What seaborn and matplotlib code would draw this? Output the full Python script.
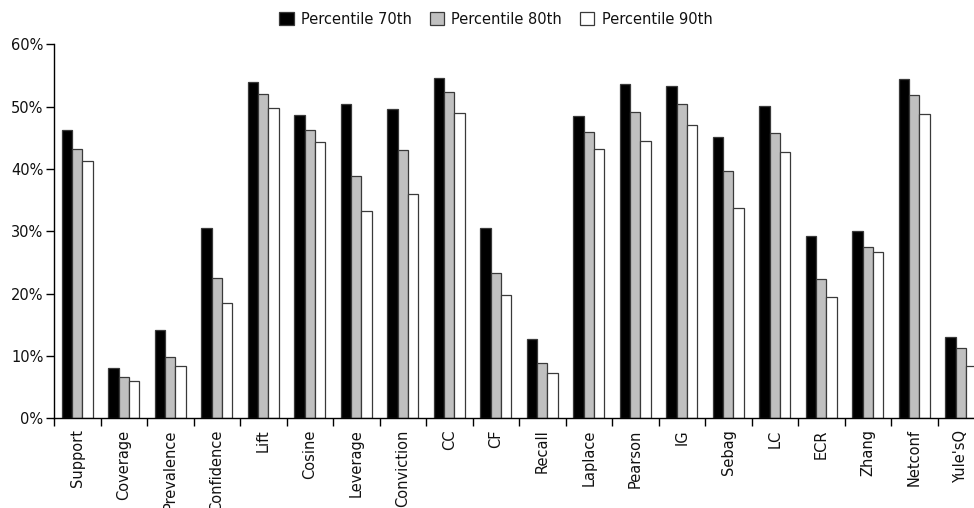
import matplotlib
matplotlib.use("Agg")
import matplotlib.pyplot as plt
import seaborn as sns
import pandas as pd
import numpy as np
from matplotlib.ticker import FuncFormatter, FixedLocator
from matplotlib.patches import Patch

categories = ["Support", "Coverage", "Prevalence", "Confidence", "Lift", "Cosine",
              "Leverage", "Conviction", "CC", "CF", "Recall", "Laplace", "Pearson",
              "IG", "Sebag", "LC", "ECR", "Zhang", "Netconf", "Yule'sQ"]
series_names = ["Percentile 70th", "Percentile 80th", "Percentile 90th"]
p70 = [46.3, 8.0, 14.2, 30.6, 54.0, 48.7, 50.4, 49.6, 54.6, 30.6, 12.7, 48.5, 53.6,
       53.3, 45.1, 50.1, 29.2, 30.0, 54.5, 13.0]
p80 = [43.2, 6.6, 9.9, 22.5, 52.0, 46.3, 38.9, 43.0, 52.4, 23.3, 8.9, 45.9, 49.1,
       50.5, 39.7, 45.7, 22.4, 27.5, 51.8, 11.3]
p90 = [41.2, 6.0, 8.4, 18.5, 49.8, 44.4, 33.3, 36.0, 48.9, 19.8, 7.2, 43.2, 44.5,
       47.1, 33.8, 42.8, 19.5, 26.6, 48.8, 8.4]
yticks = [0, 10, 20, 30, 40, 50, 60]

rows = []
for name, vals in zip(series_names, [p70, p80, p90]):
    for c, v in zip(categories, vals):
        rows.append({"Measure": c, "Series": name, "Value": v})
df = pd.DataFrame(rows)

sns.set_theme(style="white")
plt.rcParams["font.family"] = ["DejaVu Sans"]

fig = plt.figure(figsize=(9.74, 5.08), dpi=100)
ax = fig.add_axes([54 / 974, (508 - 418.3) / 508, 930 / 974, (418.3 - 44.3) / 508])

colors = ["#000000", "#c0c0c0", "#ffffff"]
edge = "#3a3a3a"
sns.barplot(data=df, x="Measure", y="Value", hue="Series", order=categories,
            hue_order=series_names, palette=colors, width=0.667,
            edgecolor=edge, linewidth=0.9, ax=ax, legend=False)

ax.set_xlim(-0.5, len(categories) - 0.5)
ax.set_ylim(0, 60)
ax.set_yticks(yticks)
ax.yaxis.set_major_formatter(FuncFormatter(lambda v, p: f"{int(v)}%"))
ax.set_xlabel("")
ax.set_ylabel("")

for s in ["top", "right"]:
    ax.spines[s].set_visible(False)
for s in ["left", "bottom"]:
    ax.spines[s].set_color("black")
    ax.spines[s].set_linewidth(1.0)

ax.tick_params(axis="y", which="major", direction="out", length=5.8, width=1,
               color="black", labelsize=10.5, pad=1.8, left=True,
               labelcolor="#111111")
ax.tick_params(axis="x", which="major", length=0, labelsize=10.5, pad=8,
               labelrotation=90, bottom=True, labelcolor="#111111")
ax.xaxis.set_minor_locator(FixedLocator(np.arange(-0.5, len(categories), 1.0)))
ax.tick_params(axis="x", which="minor", direction="out", length=5.8, width=1,
               color="black", bottom=True)
for lbl in ax.get_xticklabels():
    lbl.set_va("top")
    lbl.set_ha("center")

handles = [Patch(facecolor=c, edgecolor=edge, linewidth=0.9) for c in colors]
fig.legend(handles, series_names, loc="center", bbox_to_anchor=(0.509, 0.962),
           ncol=3, frameon=False, fontsize=10.5, handlelength=1.0, handleheight=1.0,
           handletextpad=0.5, columnspacing=1.2, labelcolor="#111111")

fig.savefig("out.png", dpi=100)
